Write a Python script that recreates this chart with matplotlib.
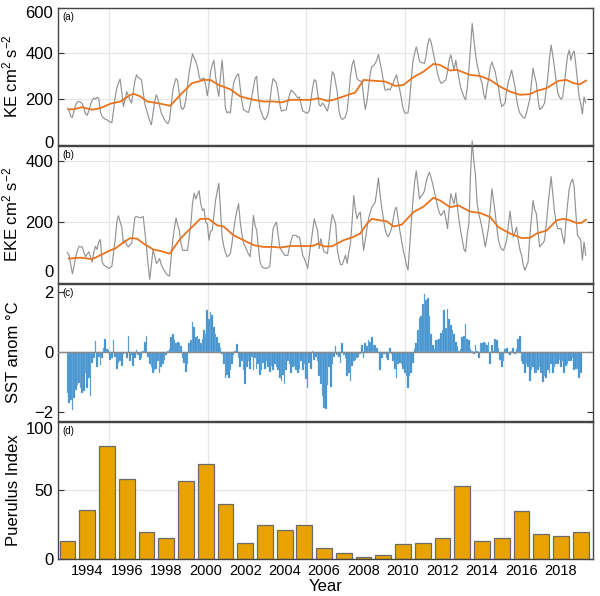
import numpy as np
import matplotlib
matplotlib.use("Agg")
import matplotlib.pyplot as plt
from matplotlib.transforms import ScaledTranslation

plt.rcParams['font.family'] = ['Liberation Sans', 'DejaVu Sans']
plt.rcParams['mathtext.fontset'] = 'custom'
plt.rcParams['mathtext.rm'] = 'Liberation Sans'
plt.rcParams['mathtext.it'] = 'Liberation Sans'

START_YEAR = 1993

# ---- Panel (a): KE monthly (from Jan 1993) ----
ke = [
    160, 150, 125, 120, 150, 175, 188, 190, 186, 180, 160, 135,
    130, 150, 175, 195, 205, 200, 208, 205, 145, 125, 118, 112,
    110, 105, 100, 98, 150, 210, 248, 270, 288, 230, 168, 200,
    233, 215, 195, 183, 230, 280, 306, 295, 290, 284, 230, 180,
    154, 130, 105, 88, 140, 190, 219, 200, 170, 140, 125, 110,
    100, 93, 110, 170, 235, 270, 290, 280, 220, 165, 155, 165,
    200, 260, 320, 360, 398, 380, 365, 340, 300, 280, 290, 292,
    260, 215, 260, 320, 350, 370, 300, 250, 212, 300, 370, 280,
    160, 140, 145, 140, 210, 270, 290, 305, 310, 250, 190, 154,
    150, 145, 142, 170, 210, 250, 290, 300, 210, 160, 140, 120,
    110, 120, 139, 190, 250, 290, 280, 270, 230, 180, 148, 150,
    152, 155, 190, 220, 240, 232, 226, 215, 205, 210, 180, 148,
    145, 140, 139, 150, 200, 250, 285, 280, 230, 175, 170, 183,
    175, 160, 148, 180, 260, 320, 310, 270, 230, 150, 120, 112,
    115, 125, 150, 220, 300, 350, 370, 330, 290, 282, 280, 277,
    210, 155, 190, 250, 310, 342, 345, 356, 370, 395, 360, 325,
    280, 240, 240, 245, 240, 255, 270, 290, 306, 270, 240, 200,
    160, 140, 139, 140, 200, 290, 365, 400, 428, 400, 365, 360,
    358, 356, 390, 440, 465, 450, 415, 380, 345, 310, 285, 270,
    272, 280, 284, 320, 370, 393, 360, 327, 370, 330, 290, 250,
    230, 210, 197, 250, 330, 425, 530, 460, 400, 350, 320, 290,
    270, 220, 200, 250, 290, 340, 362, 340, 320, 280, 250, 200,
    168, 175, 183, 240, 277, 300, 327, 290, 255, 200, 160, 139,
    130, 120, 117, 140, 170, 200, 270, 335, 300, 270, 200, 155,
    160, 170, 183, 240, 298, 380, 436, 390, 340, 280, 230, 210,
    200, 210, 265, 330, 390, 414, 370, 400, 410, 350, 280, 210,
    180, 135, 210, 185,
]
# smoothed KE (orange) read points: month index, value
ke_smooth_m = [0.8, 3.8, 8.9, 15, 20, 26.1, 32.2, 38.3, 40.3, 44.3, 48.4, 54.5, 62.5, 68.6,
               75.7, 79.7, 82.8, 86.8, 91.9, 99, 105, 113.2, 119.2, 125.3, 130.3, 135.4,
               141.5, 147.6, 152.6, 157.7, 161.7, 167.8, 174.9, 180, 185, 193.1, 199.2,
               204.2, 210.3, 216.4, 222.5, 226.5, 232.6, 236.6, 244.7, 250.8, 256.9,
               262.9, 269, 275.1, 281.2, 285.2, 291.3, 298.4, 303.4, 307.5, 311.5, 315.2]
ke_smooth_v = [156, 156, 165, 154, 161, 180, 190, 219, 223, 212, 190, 183, 171, 219,
               270, 277, 284, 284, 262, 243, 212, 197, 190, 190, 186, 197,
               197, 197, 204, 193, 197, 212, 229, 284, 281, 277, 258,
               262, 296, 320, 354, 349, 325, 328, 306, 301, 284,
               255, 233, 219, 222, 236, 248, 280, 284, 270, 265, 281]

# ---- Panel (b): EKE monthly ----
eke = [
    100, 90, 60, 30, 55, 85, 105, 120, 118, 118, 100, 86,
    95, 102, 85, 69, 100, 120, 110, 135, 142, 70, 60, 55,
    52, 48, 50, 55, 100, 140, 200, 220, 200, 183, 129, 140,
    125, 118, 125, 130, 170, 215, 218, 215, 213, 215, 218, 170,
    118, 60, 12, 60, 107, 90, 64, 70, 80, 60, 48, 40,
    30, 25, 23, 80, 140, 180, 213, 190, 172, 130, 107, 107,
    107, 107, 150, 194, 260, 294, 275, 290, 302, 260, 237, 243,
    200, 194, 140, 170, 172, 220, 270, 300, 326, 240, 151, 120,
    100, 86, 90, 96, 130, 172, 210, 237, 259, 200, 161, 130,
    120, 107, 95, 86, 140, 221, 190, 172, 120, 69, 55, 50,
    48, 48, 50, 55, 120, 178, 190, 199, 160, 120, 107, 100,
    91, 90, 91, 120, 140, 156, 156, 156, 150, 151, 120, 91,
    80, 65, 48, 90, 129, 170, 210, 190, 172, 113, 145, 120,
    102, 100, 96, 140, 190, 224, 210, 194, 110, 80, 60, 60,
    75, 91, 64, 100, 129, 200, 286, 240, 210, 225, 232, 170,
    107, 140, 178, 210, 230, 248, 255, 264, 300, 344, 290, 248,
    210, 178, 160, 151, 165, 178, 210, 240, 248, 210, 172, 140,
    110, 86, 60, 42, 120, 200, 270, 330, 367, 320, 275, 285,
    290, 302, 330, 350, 362, 345, 324, 300, 275, 250, 230, 221,
    228, 237, 210, 178, 240, 292, 275, 259, 294, 250, 205, 170,
    140, 110, 102, 160, 194, 357, 465, 400, 351, 260, 227, 205,
    180, 150, 118, 150, 183, 240, 308, 270, 227, 180, 140, 120,
    110, 107, 120, 140, 190, 235, 190, 151, 165, 183, 140, 110,
    91, 60, 42, 55, 69, 150, 210, 270, 240, 227, 170, 118,
    125, 130, 140, 190, 248, 300, 348, 290, 237, 200, 178, 178,
    178, 150, 129, 200, 260, 308, 330, 340, 313, 230, 156, 150,
    140, 75, 134, 91,
]
eke_smooth_m = [0.8, 7.9, 15, 20, 26.1, 29.1, 34.2, 38.3, 42.3, 46.3, 52.4, 56.5, 62.1,
                68.6, 74.7, 80.8, 85.8, 90.9, 94.9, 101, 107.1, 113.1, 119.2, 125.3,
                129.3, 135.4, 141.5, 148.6, 152.6, 155.7, 160.7, 167.8, 173.9, 177.9,
                182, 185, 190.1, 194.1, 198.2, 203.2, 210.3, 216.4, 222.5, 226.5,
                232.6, 237.6, 244.7, 250.8, 256.9, 261.9, 269, 276.1, 281.2, 285.2,
                291.3, 297.3, 301.4, 305.4, 309.5, 312.5, 315.2]
eke_smooth_v = [80, 83, 78, 91, 107, 113, 134, 147, 145, 129, 109, 105, 96,
                145, 178, 210, 210, 189, 185, 156, 140, 124, 118, 118,
                116, 121, 121, 121, 129, 120, 120, 140, 151, 162,
                194, 210, 205, 202, 185, 191, 232, 250, 279, 270,
                248, 254, 234, 229, 216, 183, 162, 147, 148, 162,
                172, 205, 210, 205, 196, 197, 207]

# ---- Panel (c): SST anomaly monthly ----
sst = [
    -1.37, -1.7, -1.6, -1.92, -1.53, -1.25, -1.1, -1.03, -1.2, -1.37, -1.3, -0.7,
    -1.2, -0.87, -1.48, -0.37, -0.2, 0.36, -0.48, -0.15, -0.42, -0.2, 0.13, 0.45,
    0.1, 0.08, -0.25, -0.2, 0.4, -0.15, -0.55, -0.35, -0.3, -0.45, -0.05, -0.02,
    -0.2, 0.55, -0.3, -0.1, -0.45, -0.2, 0.08, -0.1, -0.25, -0.2, 0.05, 0.35,
    0.55, -0.15, -0.4, -0.5, -0.7, -0.6, -0.55, -0.3, -0.7, -0.5, -0.4, -0.25,
    -0.1, 0.05, 0.1, 0.5, 0.6, 0.4, 0.3, 0.35, 0.3, 0.2, -0.2, -0.35,
    -0.65, -0.4, 0.3, 0.4, 1.0, 0.85, 0.5, 0.55, 0.45, 0.3, 0.45, 0.75,
    0.6, 1.4, 1.1, 1.35, 1.25, 0.85, 0.6, 0.5, 0.3, 0.15, -0.05, -0.4,
    -0.85, -0.75, -0.85, -0.6, -0.4, -0.1, 0.05, 0.27, -0.2, -0.5, -0.3, -0.6,
    -1.05, -0.5, -0.3, -0.55, -0.15, -0.6, -0.2, -0.55, -0.4, -0.75, -0.6, -0.35,
    -0.55, -0.3, -0.5, -0.65, -0.45, -0.6, -0.4, -0.5, -0.6, -0.85, -0.95, -0.75,
    -1.05, -0.6, -0.3, -0.4, -0.7, -0.5, -0.45, -0.6, -0.7, -0.55, -0.3, -0.6,
    -0.4, -0.9, -1.2, -0.35, -0.55, 0.05, -0.25, -0.15, -0.3, -0.8, -1.05, -1.45,
    -1.85, -1.9, -1.1, -0.5, -1.15, -0.4, -0.15, 0.2, -0.1, -0.15, -0.35, 0.3,
    -0.1, -0.2, -0.8, -0.7, -0.95, -0.45, -0.3, -0.25, -0.2, -0.15, -0.05, 0.25,
    -0.2, 0.3, 0.2, 0.4, 0.35, 0.5, 0.25, 0.25, 0.15, 0.02, -0.6, -0.2,
    -0.05, -0.05, -0.2, -0.25, 0.15, -0.05, -0.3, -0.55, -0.85, -0.4, -0.35, -0.4,
    -0.55, -0.7, -0.8, -1.2, -0.8, -0.7, -0.35, 0.1, 0.3, 0.75, 1.15, 1.2,
    1.6, 1.95, 1.75, 1.8, 1.2, 0.6, 0.25, 0.1, 0.4, 0.4, 0.45, 0.65,
    0.75, 1.4, 0.8, 1.45, 1.1, 0.9, 0.75, 0.6, 0.35, 0.2, 0.05, 0.1,
    0.5, 0.55, 0.95, 0.45, 0.4, 0.1, 0.05, -0.05, 0.25, 0.05, -0.2, 0.3,
    0.3, 0.35, 0.3, 0.25, 0.35, -0.4, 0.25, 0.05, 0.45, 0.4, 0.15, -0.25,
    -0.5, -0.3, 0.1, 0.15, -0.05, -0.1, 0.05, 0.15, -0.05, 0.1, 0.45, 0.55,
    -0.3, -0.4, -0.7, -0.4, -0.5, -0.95, -0.6, -0.5, -0.7, -0.7, -0.6, -0.5,
    -0.7, -1.0, -0.8, -0.85, -0.6, -0.7, -0.4, -0.7, -0.5, -0.4, -0.4, -0.25,
    -0.5, -0.3, -0.7, -0.45, -0.4, -0.3, -0.3, -0.2, -0.6, -0.55, -0.55, -0.85,
    -0.7,
]

# ---- Panel (d): Puerulus index, annual ----
years = list(range(1993, 2020))
puerulus = [13, 36, 82, 58, 20, 15, 57, 69, 40, 12, 25, 21, 25, 8, 4.4, 1.2, 2.6,
            10.7, 12, 15, 53.4, 12.8, 15.3, 34.7, 18.2, 16.7, 20]

xticks = list(range(1994, 2019, 2))
vgrid = [1995.1, 2000.1, 2005.1, 2010.1, 2015.1]

# ---------------------------------------------------------------
def t_of(m):
    return START_YEAR + np.asarray(m, dtype=float) / 12.0

GRAY = '#939393'
ORANGE = '#E8731E'
BLUE = '#3A8DCB'
GOLD = '#E8A202'
GRIDC = '#e6e6e6'

fig = plt.figure(figsize=(6.0, 5.96), dpi=100)
L, W = 58 / 600, 535 / 600
H = 137.5 / 596
bottoms = [1 - 145 / 596, 1 - 283 / 596, 1 - 421 / 596, 1 - 559 / 596]
axes = [fig.add_axes([L, b, W, H]) for b in bottoms]
XL = (1992.52, 2019.62)

for ax in axes:
    ax.set_xlim(*XL)
    for v in vgrid:
        ax.axvline(v, color=GRIDC, lw=0.9, zorder=0)
    ax.set_xticks(xticks)
    ax.tick_params(axis='both', direction='in', length=4, width=0.8,
                   top=False, right=True, labelsize=12, colors='#333333',
                   labelcolor='black')
    ax.tick_params(axis='x', labelsize=10.5, length=0)
    for s in ax.spines.values():
        s.set_color('#444444')
        s.set_linewidth(1.0)


def shift_ylabel(ax, idx, dy_px):
    tick = ax.yaxis.get_major_ticks()[idx]
    lbl = tick.label1
    lbl.set_transform(lbl.get_transform() +
                      ScaledTranslation(0, dy_px / 100.0, fig.dpi_scale_trans))


# (a)
ax = axes[0]
tm = t_of(np.arange(len(ke)))
ax.plot(tm, ke, color=GRAY, lw=0.85, zorder=2)
ax.plot(t_of(ke_smooth_m), ke_smooth_v, color=ORANGE, lw=1.3, zorder=3)
ax.set_ylim(0, 600)
ax.set_yticks([0, 200, 400, 600])
for v in [200, 400]:
    ax.axhline(v, color=GRIDC, lw=0.9, zorder=0)
ax.set_ylabel('KE cm$^2$ s$^{-2}$', fontsize=12)
ax.tick_params(axis='x', labelbottom=False)
shift_ylabel(ax, 0, 3)
shift_ylabel(ax, 3, -5)

# (b)
ax = axes[1]
tm = t_of(np.arange(len(eke)))
ax.plot(tm, eke, color=GRAY, lw=0.85, zorder=2, clip_on=False)
ax.plot(t_of(eke_smooth_m), eke_smooth_v, color=ORANGE, lw=1.3, zorder=3)
ax.set_ylim(0, 450)
ax.set_yticks([0, 200, 400])
for v in [200, 400]:
    ax.axhline(v, color=GRIDC, lw=0.9, zorder=0)
ax.set_ylabel('EKE cm$^2$ s$^{-2}$', fontsize=12)
ax.tick_params(axis='x', labelbottom=False)
shift_ylabel(ax, 0, 12)

# (c)
ax = axes[2]
tm = t_of(np.arange(len(sst)))
ax.bar(tm, sst, width=1 / 12, color=BLUE, edgecolor='#8ec0e6', linewidth=0.25, zorder=2)
ax.axhline(0, color='#888888', lw=1.0, zorder=3)
ax.set_ylim(-2.3, 2.3)
ax.set_yticks([-2, 0, 2])
ax.set_ylabel('SST anom \u00b0C', fontsize=12)
ax.tick_params(axis='x', labelbottom=False)

# (d)
ax = axes[3]
ax.bar(years, puerulus, width=0.8, color=GOLD, edgecolor='#6b6b6b', linewidth=0.9, zorder=2)
ax.set_ylim(0, 100)
ax.set_yticks([0, 50, 100])
ax.axhline(50, color=GRIDC, lw=0.9, zorder=0)
ax.set_ylabel('Puerulus Index', fontsize=12)
ax.set_xlabel('Year', fontsize=12, labelpad=1)
shift_ylabel(ax, 2, -7)

for ax, lab in zip(axes, ['(a)', '(b)', '(c)', '(d)']):
    ax.text(0.008, 0.965, lab, transform=ax.transAxes, fontsize=7, va='top', ha='left')
    ax.yaxis.set_label_coords(-0.07, 0.5)

fig.savefig('out.png', dpi=100)
